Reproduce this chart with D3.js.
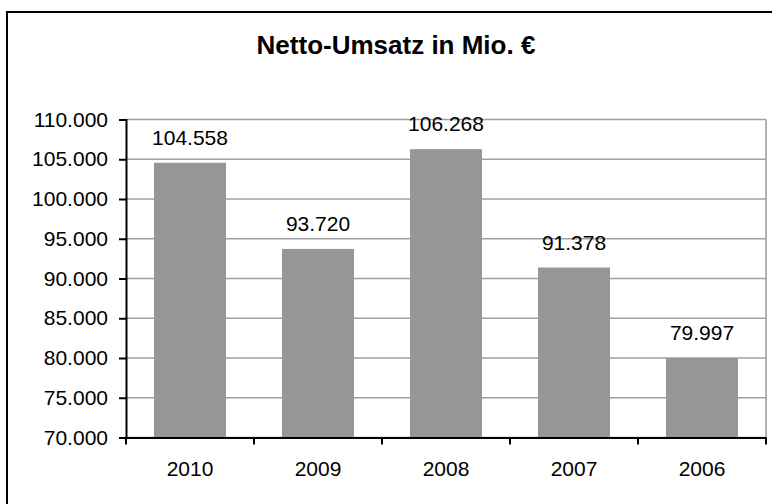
<!DOCTYPE html>
<html>
<head>
<meta charset="utf-8">
<script src="https://cdn.jsdelivr.net/npm/d3@7"></script>
<style>
  body { margin: 0; background: #fff; overflow: hidden; }
  text { font-family: "Liberation Sans", Arial, sans-serif; fill: #000; }
</style>
</head>
<body>
<div id="chart"></div>
<script>
// data
var years = ['2010', '2009', '2008', '2007', '2006'];
var umsatz = [104558, 93720, 106268, 91378, 79997];
var yTicks = [70000, 75000, 80000, 85000, 90000, 95000, 100000, 105000, 110000];
var title = 'Netto-Umsatz in Mio. €';

var width = 772, height = 504;
var plot = { left: 126, right: 766, top: 119.5, bottom: 437.5 };

var de = d3.formatLocale({ decimal: ',', thousands: '.', grouping: [3], currency: ['', ' €'] });
var fmt = de.format(',d');

var svg = d3.select('#chart').append('svg')
  .attr('width', width)
  .attr('height', height)
  .style('display', 'block');

// outer frame (cut off at right / bottom like the original)
svg.append('rect')
  .attr('x', 7).attr('y', 12)
  .attr('width', 800).attr('height', 520)
  .attr('fill', 'none')
  .attr('stroke', '#000')
  .attr('stroke-width', 2);

svg.append('text')
  .attr('x', 396).attr('y', 54)
  .attr('text-anchor', 'middle')
  .style('font-size', '26px')
  .style('font-weight', 'bold')
  .text(title);

////////////////////////////////////////////////////////////
//////////////////////// Scales ////////////////////////////
////////////////////////////////////////////////////////////

var x = d3.scaleBand()
  .domain(years)
  .range([plot.left, plot.right])
  .paddingInner(0.4375)
  .paddingOuter(0.21875);

var y = d3.scaleLinear()
  .domain([70000, 110000])
  .range([plot.bottom, plot.top]);

// gridlines
svg.append('g')
  .selectAll('line')
  .data(yTicks)
  .enter().append('line')
  .attr('x1', plot.left).attr('x2', plot.right)
  .attr('y1', function(d) { return y(d); })
  .attr('y2', function(d) { return y(d); })
  .attr('stroke', '#a0a0a0')
  .attr('stroke-width', 1.6);

// plot area right border
svg.append('line')
  .attr('x1', plot.right).attr('x2', plot.right)
  .attr('y1', plot.top).attr('y2', plot.bottom)
  .attr('stroke', '#a0a0a0')
  .attr('stroke-width', 1.6);

// bars
svg.append('g')
  .selectAll('rect')
  .data(umsatz)
  .enter().append('rect')
  .attr('x', function(d, i) { return x(years[i]); })
  .attr('width', x.bandwidth())
  .attr('y', function(d) { return y(d); })
  .attr('height', function(d) { return y(70000) - y(d); })
  .attr('fill', '#969696');

// value labels
svg.append('g')
  .selectAll('text')
  .data(umsatz)
  .enter().append('text')
  .attr('x', function(d, i) { return x(years[i]) + x.bandwidth() / 2; })
  .attr('y', function(d) { return y(d) - 18; })
  .attr('text-anchor', 'middle')
  .style('font-size', '21px')
  .text(function(d) { return fmt(d); });

////////////////////////////////////////////////////////////
///////////////////////// Axes /////////////////////////////
////////////////////////////////////////////////////////////

var yAxis = svg.append('g')
  .attr('transform', 'translate(' + plot.left + ',0)')
  .call(d3.axisLeft(y).tickValues(yTicks).tickSize(7).tickPadding(11).tickFormat(fmt));
yAxis.selectAll('text').style('font-size', '21px').attr('fill', '#000');
yAxis.selectAll('line').attr('stroke', '#000').attr('stroke-width', 2);
yAxis.select('.domain').attr('stroke', '#000').attr('stroke-width', 2);

var xAxis = svg.append('g')
  .attr('transform', 'translate(0,' + plot.bottom + ')')
  .call(d3.axisBottom(x).tickSize(0).tickPadding(24));
xAxis.selectAll('text').style('font-size', '21px').attr('fill', '#000');
xAxis.select('.domain').attr('stroke', '#000').attr('stroke-width', 2);

// category boundary ticks
var gap = (x.step() - x.bandwidth()) / 2;
var bounds = years.map(function(d) { return x(d) - gap; }).concat([x(years[years.length - 1]) + x.bandwidth() + gap]);
xAxis.selectAll('line.bound')
  .data(bounds)
  .enter().append('line')
  .attr('class', 'bound')
  .attr('x1', function(d) { return d; }).attr('x2', function(d) { return d; })
  .attr('y1', 0).attr('y2', 7)
  .attr('stroke', '#000')
  .attr('stroke-width', 2);
</script>
</body>
</html>
